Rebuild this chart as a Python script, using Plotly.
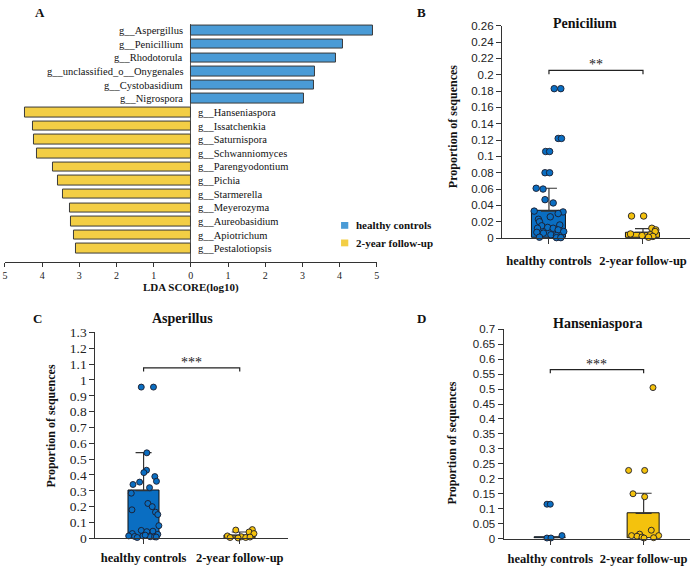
import plotly.graph_objects as go

W, H = 694, 569
SERIF = "Liberation Serif"
SANS = "Liberation Sans"

# ---------------- Panel A data (LEfSe) ----------------
genera = ["g__Aspergillus", "g__Penicillium", "g__Rhodotorula", "g__unclassified_o__Onygenales",
          "g__Cystobasidium", "g__Nigrospora", "g__Hanseniaspora", "g__Issatchenkia",
          "g__Saturnispora", "g__Schwanniomyces", "g__Parengyodontium", "g__Pichia",
          "g__Starmerella", "g__Meyerozyma", "g__Aureobasidium", "g__Apiotrichum",
          "g__Pestalotiopsis"]
lda_scores = [4.89, 4.09, 3.91, 3.34, 3.32, 3.05, 4.47, 4.25, 4.22, 4.15, 3.72,
              3.58, 3.43, 3.24, 3.23, 3.15, 3.08]
lda_group = ["healthy controls"] * 6 + ["2-year follow-up"] * 11
lda_ticks = [-5, -4, -3, -2, -1, 0, 1, 2, 3, 4, 5]
lda_ticktext = [str(abs(t)) for t in lda_ticks]

groups = ["healthy controls", "2-year follow-up"]

# ---------------- Panel B: Penicilium ----------------
pen_hc = [0.183, 0.183, 0.122, 0.122, 0.106, 0.106, 0.080, 0.080, 0.061, 0.060, 0.047, 0.043,
          0.033, 0.032, 0.030, 0.026, 0.023, 0.020, 0.016, 0.015, 0.013, 0.012, 0.012, 0.010,
          0.008, 0.007, 0.006, 0.004, 0.003, 0.001, 0.0005, 0.0005]
pen_hc_jit = [0.056, 0.126, 0.098, 0.133, -0.035, 0.007, -0.042, 0.007, -0.136, -0.063, -0.042, 0.045,
              -0.157, 0.150, 0.098, 0.014, -0.112, -0.101, 0.115, -0.077, -0.014, 0.045, -0.122, 0.098,
              0.157, -0.129, -0.059, 0.021, 0.080, -0.101, 0.080, 0.126]
pen_fu = [0.027, 0.027, 0.012, 0.010, 0.008, 0.005, 0.004, 0.003, 0.002, 0.001]
pen_fu_jit = [-0.122, 0.007, 0.094, 0.136, 0.129, -0.133, 0.077, -0.010, 0.105, 0.059]
pen_mean = [0.033, 0.007]
pen_sd = [0.028, 0.0045]
pen_sig = [0.2007, 0.2055, "**"]
pen_yticks = [round(0.02 * i, 2) for i in range(14)]

# ---------------- Panel C: Asperillus ----------------
asp_hc = [0.955, 0.955, 0.54, 0.43, 0.415, 0.39, 0.36, 0.355, 0.34, 0.32, 0.285, 0.22, 0.20,
          0.18, 0.165, 0.15, 0.08, 0.05, 0.045, 0.042, 0.03, 0.025, 0.015, 0.012, 0.015, 0.01,
          0.01, 0.005, 0.02, 0.008]
asp_hc_jit = [-0.024, 0.103, 0.034, 0.031, 0.003, 0.117, 0.134, -0.041, -0.110, 0.062, -0.128,
              0.045, 0.090, -0.121, 0.124, 0.148, 0.159, -0.024, 0.097, 0.034, -0.117, 0.148,
              -0.155, -0.093, -0.007, 0.069, 0.114, -0.066, 0.017, 0.131]
asp_fu = [0.052, 0.055, 0.04, 0.03, 0.015, 0.01, 0.005, 0.005, 0.008, 0.002]
asp_fu_jit = [-0.041, 0.131, 0.097, 0.148, -0.128, 0.017, -0.100, 0.062, 0.107, -0.017]
asp_mean = [0.301, 0.015]
asp_sd = [0.24, 0.025]
asp_sig = [1.054, 1.076, "***"]
asp_yticks = [round(0.1 * i, 1) for i in range(14)]

# ---------------- Panel D: Hanseniaspora ----------------
han_hc = [0.115, 0.115, 0.002, 0.002, 0.01]
han_hc_jit = [-0.036, 0.0, -0.036, 0.007, 0.125]
han_fu = [0.505, 0.228, 0.228, 0.15, 0.14, 0.028, 0.015, 0.01, 0.01, 0.008, 0.005, 0.002, 0.003]
han_fu_jit = [0.100, -0.161, 0.011, -0.114, 0.011, 0.082, -0.043, -0.129, 0.161, -0.071,
              -0.018, 0.004, 0.107]
han_mean = [0.003, 0.0846]
han_sd = [0.0, 0.067]
han_sig = [0.553, 0.565, "***"]
han_yticks = [round(0.05 * i, 2) for i in range(15)]

# ---------------- colours ----------------
LDA_BLUE = "#4A9BD6"
LDA_YEL = "#F3CE45"
BLUE = "#0A6EC2"
YEL = "#F4C20D"


def px(x):
    return x / W


def py(y):
    return 1 - y / H


fig = go.Figure()

# ---- Panel A bars ----
for grp, col in [("healthy controls", LDA_BLUE), ("2-year follow-up", LDA_YEL)]:
    ys = [g for g, gg in zip(genera, lda_group) if gg == grp]
    xs = [s if grp == "healthy controls" else -s for s, gg in zip(lda_scores, lda_group) if gg == grp]
    fig.add_trace(go.Bar(x=xs, y=ys, orientation="h", width=0.7, name=grp,
                         marker=dict(color=col, line=dict(color="#3a3a3a", width=1)),
                         xaxis="x", yaxis="y", showlegend=False))

for g, s, gg in zip(genera, lda_scores, lda_group):
    if gg == "healthy controls":
        fig.add_annotation(x=-0.16, y=g, xref="x", yref="y", text=g, showarrow=False,
                           xanchor="right", yanchor="middle",
                           font=dict(family=SERIF, size=10.5, color="#111"))
    else:
        fig.add_annotation(x=0.15, y=g, xref="x", yref="y", text=g, showarrow=False,
                           xanchor="left", yanchor="middle",
                           font=dict(family=SERIF, size=10.5, color="#111"))

# ---- dot + bar panels ----
panels = [
    ("2", pen_mean, pen_sd, [pen_hc, pen_fu], [pen_hc_jit, pen_fu_jit], pen_sig, 0.357, 6.5),
    ("3", asp_mean, asp_sd, [asp_hc, asp_fu], [asp_hc_jit, asp_fu_jit], asp_sig, 0.324, 6),
    ("4", han_mean, han_sd, [han_hc, han_fu], [han_hc_jit, han_fu_jit], han_sig, 0.336, 6),
]
for ax, means, sds, pts, jits, sig, bw, msize in panels:
    for i, (grp, col) in enumerate([(groups[0], BLUE), (groups[1], YEL)]):
        fig.add_trace(go.Bar(x=[i], y=[means[i]], width=bw, xaxis="x" + ax, yaxis="y" + ax,
                             marker=dict(color=col, line=dict(color="#111", width=1)),
                             error_y=dict(type="data", symmetric=False, array=[sds[i]],
                                          arrayminus=[0], color="#333", thickness=1.2, width=8),
                             showlegend=False))
    for i, (grp, col) in enumerate([(groups[0], BLUE), (groups[1], YEL)]):
        fig.add_trace(go.Scatter(x=[i + j for j in jits[i]], y=pts[i], mode="markers",
                                 xaxis="x" + ax, yaxis="y" + ax, cliponaxis=False,
                                 marker=dict(color=col, size=msize,
                                             line=dict(color="#1c1c2a", width=0.9)),
                                 showlegend=False))
    lo, hi, txt_ = sig
    fig.add_shape(type="path", path=f"M 0 {lo} L 0 {hi} L 1 {hi} L 1 {lo}",
                  xref="x" + ax, yref="y" + ax, line=dict(color="#222", width=1.2))
    fig.add_annotation(x=0.5, y=hi, xref="x" + ax, yref="y" + ax, text=txt_, showarrow=False,
                       yanchor="bottom", yshift=-4,
                       font=dict(family=SERIF, size=14, color="#222"))

axis_line = dict(showline=True, linecolor="#333", linewidth=1.2, ticks="outside",
                 ticklen=5, tickcolor="#333", tickwidth=1.2, showgrid=False, zeroline=False)

cat_x = dict(axis_line, range=[-0.5, 1.5], tickvals=[0, 1],
             ticktext=[f"<b>{g}</b>" for g in groups],
             tickfont=dict(family=SERIF, size=12.5, color="#111"))

fig.update_layout(
    width=W, height=H, margin=dict(l=0, r=0, t=0, b=0),
    paper_bgcolor="white", plot_bgcolor="white", bargap=0,
    xaxis=dict(domain=[px(2), px(377)], range=[-5, 5], tickvals=lda_ticks, ticktext=lda_ticktext,
               showline=True, linecolor="#333", linewidth=1, ticks="outside", ticklen=4,
               tickcolor="#333", showgrid=False, zeroline=True, zerolinecolor="#555",
               zerolinewidth=1, anchor="y", ticklabeloverflow="allow",
               tickfont=dict(family=SERIF, size=10, color="#222")),
    yaxis=dict(domain=[py(262), py(17)], type="category", categoryorder="array",
               categoryarray=genera, range=[16.98, -0.52], showticklabels=False,
               showline=False, showgrid=False, zeroline=False, anchor="x"),
    xaxis2=dict(cat_x, domain=[px(503.3), px(693)], anchor="y2", ticklabelstandoff=6),
    yaxis2=dict(axis_line, domain=[py(237.3), py(19.3)], range=[0, 0.26], anchor="x2",
                tickvals=pen_yticks, ticktext=[f"{v:g}" for v in pen_yticks],
                tickfont=dict(family=SANS, size=11.5, color="#222")),
    xaxis3=dict(cat_x, domain=[px(93.3), px(287.3)], anchor="y3", ticklabelstandoff=3),
    yaxis3=dict(axis_line, domain=[py(545.7), py(334.3)], range=[0, 1.3], anchor="x3",
                tickvals=asp_yticks, ticktext=[f"{v:g}" for v in asp_yticks],
                tickfont=dict(family=SERIF, size=13.5, color="#222")),
    xaxis4=dict(cat_x, domain=[px(505), px(693.3)], anchor="y4", ticklabelstandoff=3),
    yaxis4=dict(axis_line, domain=[py(546), py(331)], range=[0, 0.7], anchor="x4",
                tickvals=han_yticks, ticktext=[f"{v:g}" for v in han_yticks],
                tickfont=dict(family=SANS, size=11.5, color="#222")),
)


def txt(x, y, t, size, angle=0, bold=True, family=SERIF):
    fig.add_annotation(x=px(x), y=py(y), xref="paper", yref="paper", text=f"<b>{t}</b>" if bold else t,
                       showarrow=False, xanchor="center", yanchor="middle", textangle=angle,
                       font=dict(family=family, size=size, color="#111"))


txt(37, 6, "A", 13)
txt(422, 6, "B", 13)
txt(35, 320, "C", 13)
txt(422, 320, "D", 13)
txt(587, 17, "Penicilium", 14)
txt(181, 320, "Asperillus", 14)
txt(600, 325, "Hanseniaspora", 14)
txt(453.3, 123, "Proportion of sequences", 12, angle=-90)
txt(48.3, 430, "Proportion of sequences", 12, angle=-90)
txt(453.3, 448, "Proportion of sequences", 12, angle=-90)
txt(190, 288, "LDA SCORE(log10)", 11)

# ---- legend for panel A ----
for (grp, col), yc in zip([(groups[0], LDA_BLUE), (groups[1], LDA_YEL)], [224.3, 242.3]):
    fig.add_shape(type="rect", xref="paper", yref="paper", x0=px(341), x1=px(348.3),
                  y0=py(yc + 3.5), y1=py(yc - 3.5), fillcolor=col, line=dict(width=0))
    fig.add_annotation(x=px(354), y=py(yc), xref="paper", yref="paper", text=f"<b>{grp}</b>",
                       showarrow=False, xanchor="left", yanchor="middle",
                       font=dict(family=SERIF, size=11, color="#111"))

fig.write_html("out.html",
               post_script="document.body.style.margin='0';document.body.style.overflow='hidden';")
